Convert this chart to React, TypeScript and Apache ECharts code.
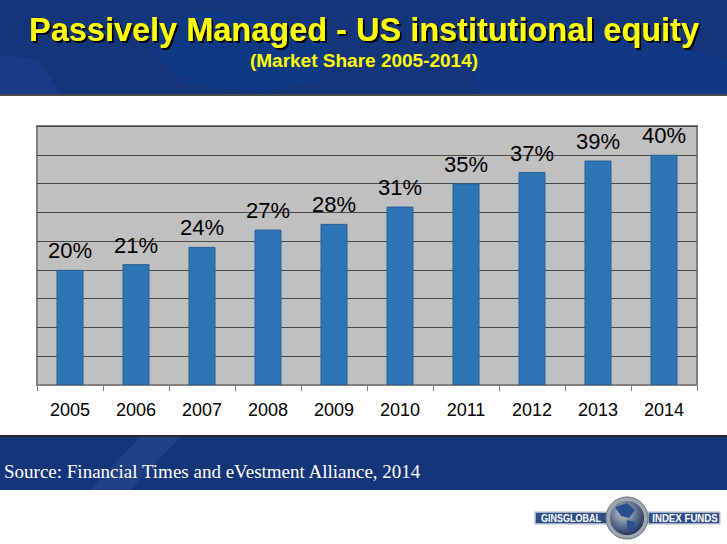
import React, { useEffect, useRef } from "react";
import * as echarts from "echarts";

const years = ["2005", "2006", "2007", "2008", "2009", "2010", "2011", "2012", "2013", "2014"];
const marketShare = [20, 21, 24, 27, 28, 31, 35, 37, 39, 40];
const titleText = "Passively Managed - US institutional equity";
const subtitleText = "(Market Share 2005-2014)";
const sourceText = "Source: Financial Times and eVestment Alliance, 2014";

export default function App() {
  const ref = useRef<HTMLDivElement>(null);
  useEffect(() => {
    document.body.style.margin = "0";
    const chart = echarts.init(ref.current!, null, { renderer: "svg" });
    const navy = "#14357a";
    chart.setOption({
      animation: false,
      backgroundColor: "#ffffff",
      grid: {
        left: 37,
        right: 30,
        top: 126,
        bottom: 159,
        show: true,
        backgroundColor: "#c0c0c0",
        borderColor: "#808080",
        borderWidth: 2,
      },
      xAxis: {
        type: "category",
        data: years,
        axisLine: { show: true, lineStyle: { color: "#808080", width: 1 } },
        axisTick: { show: true, length: 6, lineStyle: { color: "#808080" } },
        axisLabel: { color: "#000", fontSize: 18, fontFamily: "Liberation Sans, Arial", margin: 16 },
      },
      yAxis: {
        type: "value",
        min: 0,
        max: 45,
        interval: 5,
        axisLabel: { show: false },
        axisLine: { show: false },
        axisTick: { show: false },
        splitLine: { show: true, lineStyle: { color: "#4a4a4a", width: 1 } },
      },
      series: [
        {
          type: "bar",
          data: marketShare,
          barWidth: 27,
          itemStyle: { color: "#2e75b6", borderColor: "#2a5f96", borderWidth: 1 },
          label: {
            show: true,
            position: "top",
            distance: 8,
            formatter: "{c}%",
            color: "#000",
            fontSize: 22,
            fontFamily: "Liberation Sans, Arial",
          },
        },
      ],
      graphic: [
        { type: "rect", shape: { x: 0, y: 0, width: 727, height: 94 }, style: { fill: navy }, z: 0 },
        { type: "polygon", shape: { points: [[480, 94], [727, 94], [727, 60], [560, 20], [470, 50]] }, style: { fill: "#0e3a8a", opacity: 0.6 }, z: 0 },
        { type: "polygon", shape: { points: [[150, 30], [200, 12], [260, 18], [330, 40], [320, 80], [260, 92], [190, 85], [160, 60]] }, style: { fill: "#0c3c8c", opacity: 0.55 }, z: 0 },
        { type: "polygon", shape: { points: [[0, 94], [60, 94], [40, 60], [0, 55]] }, style: { fill: "#1d4088", opacity: 0.6 }, z: 0 },
        { type: "rect", shape: { x: 0, y: 94, width: 727, height: 2 }, style: { fill: "#4a4a4a" }, z: 1 },
        {
          type: "text",
          x: 364,
          y: 30,
          style: {
            text: titleText,
            fill: "#ffff00",
            font: "bold 32.5px 'Liberation Sans', Arial",
            textAlign: "center",
            textVerticalAlign: "middle",
            textShadowColor: "#000",
            textShadowOffsetX: 2,
            textShadowOffsetY: 2,
            textShadowBlur: 1,
          },
          z: 2,
        },
        {
          type: "text",
          x: 364,
          y: 60,
          style: {
            text: subtitleText,
            fill: "#ffff00",
            font: "bold 19px 'Liberation Sans', Arial",
            textAlign: "center",
            textVerticalAlign: "middle",
            textShadowColor: "#000",
            textShadowOffsetX: 1,
            textShadowOffsetY: 1,
          },
          z: 2,
        },
        { type: "rect", shape: { x: 0, y: 435, width: 727, height: 2 }, style: { fill: "#2a2a2a" }, z: 1 },
        { type: "rect", shape: { x: 0, y: 437, width: 727, height: 53 }, style: { fill: navy }, z: 0 },
        { type: "polygon", shape: { points: [[90, 490], [140, 437], [180, 437], [130, 490]] }, style: { fill: "#2a4d8c", opacity: 0.5 }, z: 0 },
        {
          type: "text",
          x: 4,
          y: 471,
          style: {
            text: sourceText,
            fill: "#ffffff",
            font: "19px 'Liberation Serif', 'Times New Roman', serif",
            textAlign: "left",
            textVerticalAlign: "middle",
          },
          z: 2,
        },
        // logo
        { type: "rect", shape: { x: 535, y: 512, width: 72, height: 12 }, style: { fill: "#2e4f86", stroke: "#c8d0dc", lineWidth: 1.5 }, z: 2 },
        { type: "rect", shape: { x: 648, y: 512, width: 72, height: 12 }, style: { fill: "#2e4f86", stroke: "#c8d0dc", lineWidth: 1.5 }, z: 2 },
        { type: "circle", shape: { cx: 627, cy: 518, r: 21 }, style: { fill: "#a0a6ae", stroke: "#6a7280", lineWidth: 1 }, z: 2 },
        {
          type: "circle",
          shape: { cx: 627, cy: 518, r: 17 },
          style: {
            fill: new echarts.graphic.RadialGradient(0.4, 0.35, 0.7, [
              { offset: 0, color: "#c8ccd4" },
              { offset: 0.6, color: "#5a6a86" },
              { offset: 1, color: "#1d2f5c" },
            ]),
          },
          z: 3,
        },
        { type: "polygon", shape: { points: [[615, 507], [627, 503], [635, 510], [629, 518], [621, 516]] }, style: { fill: "#2b4e8f" }, z: 4 },
        { type: "polygon", shape: { points: [[627, 520], [635, 522], [633, 532], [627, 529]] }, style: { fill: "#2b4e8f" }, z: 4 },
        {
          type: "text",
          x: 571,
          y: 518,
          scaleX: 0.82,
          style: { text: "GINSGLOBAL", fill: "#fff", font: "bold 11px 'Liberation Sans', Arial", textAlign: "center", textVerticalAlign: "middle" },
          z: 4,
        },
        {
          type: "text",
          x: 685,
          y: 518,
          scaleX: 0.88,
          style: { text: "INDEX FUNDS", fill: "#fff", font: "bold 11px 'Liberation Sans', Arial", textAlign: "center", textVerticalAlign: "middle" },
          z: 4,
        },
      ],
    });
    return () => chart.dispose();
  }, []);
  return <div ref={ref} style={{ width: 727, height: 544 }} />;
}
